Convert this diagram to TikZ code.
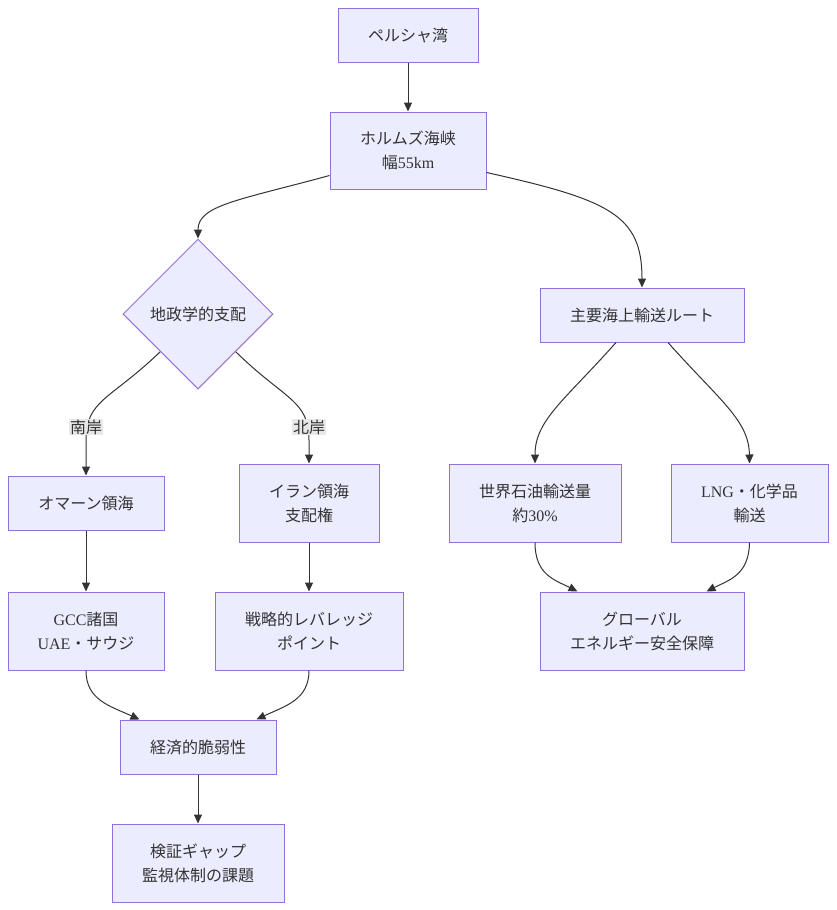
\documentclass[tikz,border=0pt]{standalone}
\usepackage{fontspec}
\setmainfont{Liberation Serif}
\newfontfamily\jp{Noto Sans CJK JP}
\usetikzlibrary{arrows.meta,calc,shapes.geometric}
\definecolor{boxfill}{HTML}{ECECFF}
\definecolor{boxline}{HTML}{9370DB}
\definecolor{txt}{HTML}{333333}
\definecolor{lblbg}{HTML}{E8E8E8}
\tikzset{
  box/.style={draw=boxline,fill=boxfill,line width=1pt,text=txt,align=center,inner sep=0pt,
    font=\fontsize{16}{24}\selectfont},
  dia/.style={box,diamond,minimum width=150pt,minimum height=150pt},
  conn/.style={draw=txt,line width=1pt,-{Triangle[length=9pt,width=8pt]}},
  lbl/.style={fill=lblbg,text=txt,inner sep=1pt,font=\fontsize{16}{20}\selectfont\jp},
}
\begin{document}
\begin{tikzpicture}[x=1pt,y=-1pt]
\useasboundingbox (0,0) rectangle (836,910);
\node[box,minimum width=140pt,minimum height=54pt] (p) at (408,35) {\jp ペルシャ湾};
\node[box,minimum width=156pt,minimum height=77pt] (h) at (408,150.5) {{\jp ホルムズ海峡}\\{\jp 幅}55km};
\node[dia] (d) at (198,314) {\jp 地政学的支配};
\node[box,minimum width=204pt,minimum height=54pt] (m) at (642,315) {\jp 主要海上輸送ルート};
\node[box,minimum width=156pt,minimum height=54pt] (o) at (86,503) {\jp オマーン領海};
\node[box,minimum width=140pt,minimum height=78pt] (i) at (309,503) {{\jp イラン領海}\\{\jp 支配権}};
\node[box,minimum width=172pt,minimum height=78pt] (w) at (535,503) {{\jp 世界石油輸送量}\\{\jp 約}30\%};
\node[box,minimum width=157pt,minimum height=78pt] (l) at (749.5,503) {LNG{\jp ・化学品}\\{\jp 輸送}};
\node[box,minimum width=156pt,minimum height=78pt] (g) at (86,631) {GCC{\jp 諸国}\\UAE{\jp ・サウジ}};
\node[box,minimum width=188pt,minimum height=78pt] (s) at (309,631) {{\jp 戦略的レバレッジ}\\{\jp ポイント}};
\node[box,minimum width=204pt,minimum height=78pt] (e) at (642,631) {{\jp グローバル}\\{\jp エネルギー安全保障}};
\node[box,minimum width=156pt,minimum height=54pt] (v) at (198,747) {\jp 経済的脆弱性};
\node[box,minimum width=172pt,minimum height=78pt] (k) at (198,863) {{\jp 検証ギャップ}\\{\jp 監視体制の課題}};

\draw[conn] (p.south) -- (h.north);
\draw[conn] ($(h.south west)+(0,-14)$) .. controls (240,200) and (198,205) .. (d.north);
\draw[conn] ($(h.south east)+(0,-17)$) .. controls (610,200) and (642,215) .. (m.north);
\draw[conn] ($(d.west)!0.5!(d.south)$) .. controls (110,400) and (86,400) .. (86,440) -- (o.north);
\draw[conn] ($(d.east)!0.5!(d.south)$) .. controls (285,400) and (309,400) .. (309,440) -- (i.north);
\node[lbl] (ls) at (86,427) {南岸};
\node[lbl] (ln) at (309,427) {北岸};
\draw[conn] ($(m.south)+(-26,0)$) .. controls (565,400) and (535,420) .. (w.north);
\draw[conn] ($(m.south)+(26,0)$) .. controls (719,400) and (749,420) .. (l.north);
\draw[conn] (o.south) -- (g.north);
\draw[conn] (i.south) -- (s.north);
\draw[conn] (g.south) .. controls (86,700) and (110,706) .. ($(v.north west)+(20,0)$);
\draw[conn] (s.south) .. controls (309,700) and (285,706) .. ($(v.north east)+(-20,0)$);
\draw[conn] (w.south) .. controls (535,575) and (555,580) .. ($(e.north west)+(38,0)$);
\draw[conn] (l.south) .. controls (749,575) and (729,580) .. ($(e.north east)+(-38,0)$);
\draw[conn] (v.south) -- (k.north);
\end{tikzpicture}
\end{document}
